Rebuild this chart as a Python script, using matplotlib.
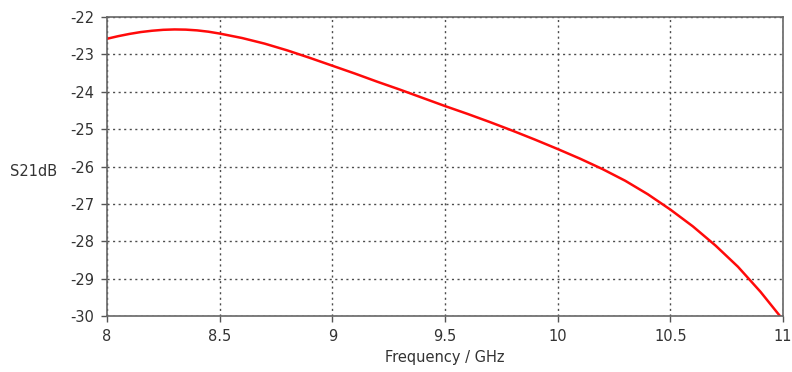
import matplotlib.pyplot as plt

plt.rcParams['axes.unicode_minus'] = False

# S21 curve
freq_ghz = [8.0, 8.05, 8.1, 8.15, 8.2, 8.25, 8.3, 8.35, 8.4, 8.45, 8.5, 8.6, 8.7, 8.8, 8.9,
            9.0, 9.1, 9.2, 9.3, 9.4, 9.5, 9.6, 9.7, 9.8, 9.9,
            10.0, 10.1, 10.2, 10.3, 10.4, 10.5, 10.6, 10.7, 10.8, 10.9, 11.0]
s21_db = [-22.58, -22.51, -22.45, -22.40, -22.365, -22.34, -22.33, -22.335, -22.355, -22.39,
          -22.44, -22.56, -22.71, -22.89, -23.09,
          -23.30, -23.51, -23.73, -23.94, -24.16, -24.38, -24.59, -24.81, -25.04, -25.28,
          -25.53, -25.79, -26.07, -26.38, -26.74, -27.15, -27.60, -28.11, -28.68, -29.35, -30.10]

x_ticks = [8, 8.5, 9, 9.5, 10, 10.5, 11]
x_labels = ['8', '8.5', '9', '9.5', '10', '10.5', '11']
y_ticks = [-22, -23, -24, -25, -26, -27, -28, -29, -30]

fig = plt.figure(figsize=(7.92, 3.72), dpi=100)
ax = fig.add_axes([0.135, 0.1505, 0.8536, 0.8035])

ax.plot(freq_ghz, s21_db, color='#ff0a0a', linewidth=1.8,
        solid_joinstyle='round', solid_capstyle='round')

ax.set_xlim(8, 11)
ax.set_ylim(-30, -22)
ax.set_xticks(x_ticks)
ax.set_xticklabels(x_labels)
ax.set_yticks(y_ticks)

ax.grid(True, linestyle=(0, (1.5, 2.5)), color='#4d4d4d', linewidth=1.0)
for s in ax.spines.values():
    s.set_color('#666666')
    s.set_linewidth(1.2)
ax.tick_params(direction='out', length=4, width=1, color='#555555',
               labelsize=10.5, labelcolor='#333333', pad=5)

ax.set_xlabel('Frequency / GHz', fontsize=10.5, color='#333333', labelpad=5)
fig.text(34 / 792, 1 - 172 / 372, 'S21dB', fontsize=10.5, color='#333333',
         ha='center', va='center')

plt.savefig('out.png', dpi=100)
